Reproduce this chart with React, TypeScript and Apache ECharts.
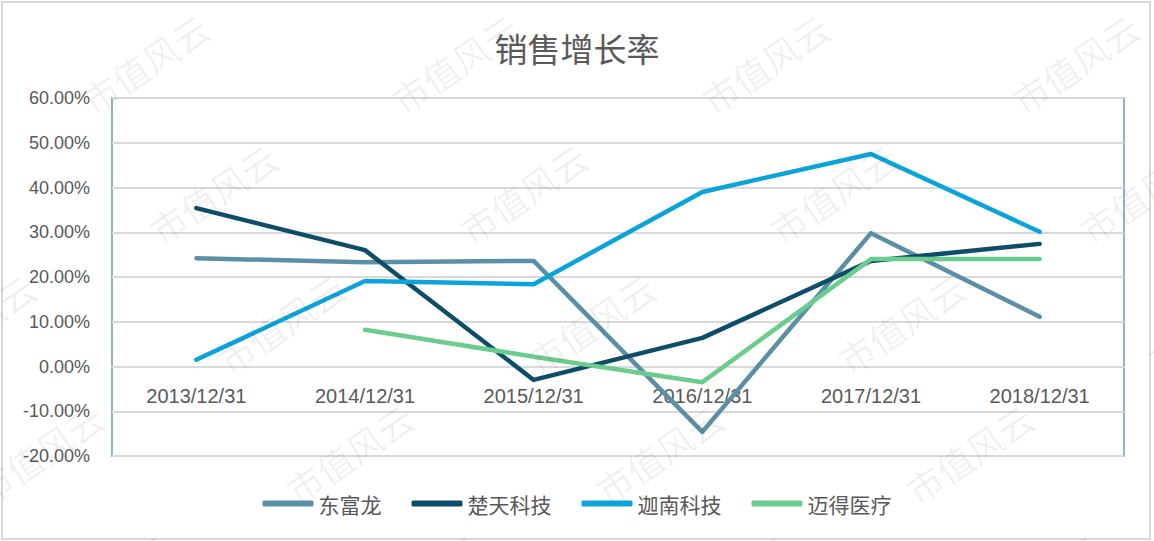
import React, { useEffect, useRef } from "react";
import * as echarts from "echarts";

const categories = ["2013/12/31", "2014/12/31", "2015/12/31", "2016/12/31", "2017/12/31", "2018/12/31"];
const seriesNames = ["东富龙", "楚天科技", "迦南科技", "迈得医疗"];
const dongfulong = [24.2, 23.3, 23.6, -14.6, 29.8, 11.1];
const chutian = [35.4, 26.0, -3.0, 6.4, 23.6, 27.4];
const jianan = [1.5, 19.1, 18.4, 39.0, 47.5, 30.1];
const maide = [null, 8.2, 2.2, -3.5, 24.0, 24.0];
const yTicks = { min: -20, max: 60, interval: 10 };
const colors = ["#5b8fa7", "#0d4d69", "#0aa4da", "#6bcd8d"];
const titleText = "销售增长率";
const watermarkText = "市值风云";

export default function App() {
  const ref = useRef<HTMLDivElement>(null);
  useEffect(() => {
    document.body.style.margin = "0";
    const chart = echarts.init(ref.current!, null, { renderer: "svg" });
    const values = [dongfulong, chutian, jianan, maide];

    const gridTop = 98;
    const gridBottomY = 456;
    const zeroFrac = (yTicks.max - 0) / (yTicks.max - yTicks.min);
    const zeroY = gridTop + (gridBottomY - gridTop) * zeroFrac;
    const axisOffset = -(gridBottomY - zeroY);

    const marks: any[] = [];
    for (let r = 0; r < 5; r++) {
      for (let c = -1; c < 4; c++) {
        const x = 100 + 310 * c + 68 * r + 45;
        const y = 95 + 130 * r - 32;
        if (x < -120 || x > 1280 || y > 640) continue;
        marks.push({
          type: "text",
          x,
          y,
          rotation: (34 * Math.PI) / 180,
          silent: true,
          z: 100,
          style: {
            text: watermarkText,
            fontSize: 36,
            fontFamily: "Noto Sans CJK SC",
            fill: "rgba(0,0,0,0.06)",
            align: "center",
            verticalAlign: "middle",
          },
        });
      }
    }

    chart.setOption({
      animation: false,
      backgroundColor: "#ffffff",
      color: colors,
      title: {
        text: titleText,
        left: "center",
        top: 26,
        textStyle: {
          fontSize: 33,
          fontWeight: "normal",
          color: "#595959",
          fontFamily: "Noto Sans CJK SC",
        },
      },
      legend: {
        data: seriesNames,
        left: "center",
        top: 488,
        icon: "roundRect",
        itemWidth: 51,
        itemHeight: 6,
        itemGap: 30,
        textStyle: { fontSize: 21, color: "#595959", fontFamily: "Noto Sans CJK SC" },
      },
      grid: {
        left: 112,
        right: 30,
        top: gridTop,
        bottom: 541 - gridBottomY,
        show: true,
        borderColor: "#8db4c8",
        borderWidth: 2,
        backgroundColor: "transparent",
      },
      xAxis: {
        type: "category",
        data: categories,
        boundaryGap: true,
        offset: axisOffset,
        axisLine: { onZero: false, lineStyle: { color: "#d9d9d9", width: 2 } },
        axisTick: { show: false },
        axisLabel: {
          margin: 19,
          fontSize: 20,
          color: "#595959",
          fontFamily: "Liberation Sans",
        },
      },
      yAxis: {
        type: "value",
        min: yTicks.min,
        max: yTicks.max,
        interval: yTicks.interval,
        axisLine: { show: false },
        axisTick: { show: false },
        splitLine: { lineStyle: { color: "#d9d9d9", width: 2 } },
        axisLabel: {
          margin: 22,
          fontSize: 18,
          color: "#595959",
          fontFamily: "Liberation Sans",
          formatter: (v: number) => v.toFixed(2) + "%",
        },
      },
      series: seriesNames.map((name, i) => ({
        name,
        type: "line",
        data: values[i],
        symbol: "none",
        smooth: false,
        lineStyle: { width: 4.5, cap: "round", join: "round", color: colors[i] },
        itemStyle: { color: colors[i] },
      })),
      graphic: [
        {
          type: "rect",
          silent: true,
          shape: { x: 2, y: 2, width: 1148, height: 537 },
          style: { fill: "none", stroke: "#d9d9d9", lineWidth: 2 },
        },
        ...marks,
      ],
    });
    return () => chart.dispose();
  }, []);
  return <div ref={ref} style={{ width: 1154, height: 541 }} />;
}
